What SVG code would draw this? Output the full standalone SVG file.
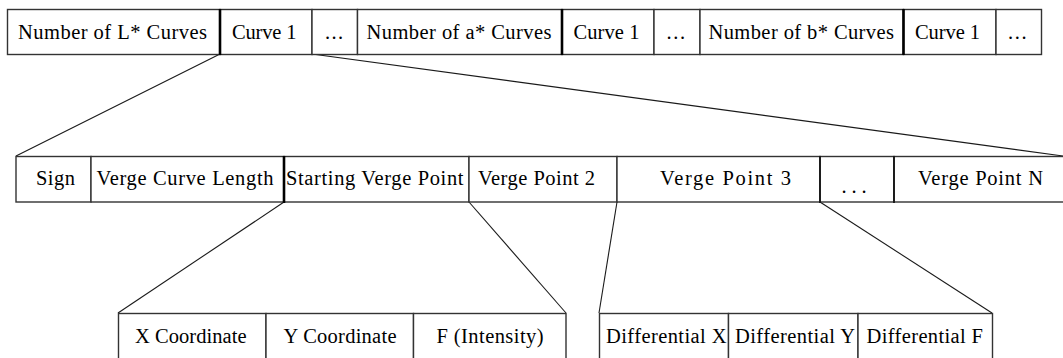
<svg xmlns="http://www.w3.org/2000/svg" width="1063" height="358" viewBox="0 0 1063 358">
<style>
.cell{fill:#ffffff;stroke:#333333;stroke-width:1.4}
.thick{stroke:#000000;stroke-width:2.6}
.med{stroke:#1a1a1a;stroke-width:1.9}
.lbl{font-family:"Liberation Serif","Times New Roman",serif;font-size:20.5px;fill:#000000}
.conn{stroke:#1a1a1a;stroke-width:1.1;fill:none}
</style>
<rect width="1063" height="358" fill="#ffffff"/>
<g id="connectors">
<line class="conn" x1="220" y1="54" x2="16" y2="156"/>
<line class="conn" x1="312" y1="54" x2="1063" y2="156"/>
<line class="conn" x1="284" y1="202" x2="118" y2="313"/>
<line class="conn" x1="469" y1="202" x2="566" y2="313"/>
<line class="conn" x1="617" y1="202" x2="599" y2="313"/>
<line class="conn" x1="820" y1="202" x2="992" y2="313"/>
</g>
<g id="top-num-L"><rect class="cell" x="7.5" y="9.5" width="212.5" height="45"/><text class="lbl" x="18" y="39" textLength="189" lengthAdjust="spacing">Number of L* Curves</text></g>
<g id="top-curve1-L"><rect class="cell" x="220" y="9.5" width="92" height="45"/><text class="lbl" x="232" y="39" textLength="64.5" lengthAdjust="spacing">Curve 1</text></g>
<g id="top-dots-L"><rect class="cell" x="312" y="9.5" width="45.5" height="45"/><text class="lbl" x="325" y="39" textLength="18" lengthAdjust="spacing">...</text></g>
<g id="top-num-a"><rect class="cell" x="357.5" y="9.5" width="204.5" height="45"/><text class="lbl" x="366.5" y="39" textLength="185" lengthAdjust="spacing">Number of a* Curves</text></g>
<g id="top-curve1-a"><rect class="cell" x="562" y="9.5" width="92" height="45"/><text class="lbl" x="573.5" y="39" textLength="66" lengthAdjust="spacing">Curve 1</text></g>
<g id="top-dots-a"><rect class="cell" x="654" y="9.5" width="46" height="45"/><text class="lbl" x="666.5" y="39" textLength="18.5" lengthAdjust="spacing">...</text></g>
<g id="top-num-b"><rect class="cell" x="700" y="9.5" width="203.5" height="45"/><text class="lbl" x="708.5" y="39" textLength="185.5" lengthAdjust="spacing">Number of b* Curves</text></g>
<g id="top-curve1-b"><rect class="cell" x="903.5" y="9.5" width="92.5" height="45"/><text class="lbl" x="915" y="39" textLength="65" lengthAdjust="spacing">Curve 1</text></g>
<g id="top-dots-b"><rect class="cell" x="996" y="9.5" width="45.5" height="45"/><text class="lbl" x="1008" y="39" textLength="18.5" lengthAdjust="spacing">...</text></g>
<g id="top-dividers">
<line class="thick" x1="220" y1="9" x2="220" y2="55"/>
<line class="thick" x1="562" y1="9" x2="562" y2="55"/>
<line class="thick" x1="903.5" y1="9" x2="903.5" y2="55"/>
</g>
<g id="mid-sign"><rect class="cell" x="16" y="156.5" width="75" height="45.5"/><text class="lbl" x="36" y="185" textLength="39" lengthAdjust="spacing">Sign</text></g>
<g id="mid-length"><rect class="cell" x="91" y="156.5" width="193" height="45.5"/><text class="lbl" x="96.5" y="185" textLength="177" lengthAdjust="spacing">Verge Curve Length</text></g>
<g id="mid-start"><rect class="cell" x="284" y="156.5" width="185" height="45.5"/><text class="lbl" x="286" y="185" textLength="177.5" lengthAdjust="spacing">Starting Verge Point</text></g>
<g id="mid-vp2"><rect class="cell" x="469" y="156.5" width="148" height="45.5"/><text class="lbl" x="478" y="185" textLength="117" lengthAdjust="spacing">Verge Point 2</text></g>
<g id="mid-vp3"><rect class="cell" x="617" y="156.5" width="203" height="45.5"/><text class="lbl" x="660" y="185" textLength="131" lengthAdjust="spacing">Verge Point 3</text></g>
<g id="mid-dots"><rect class="cell" x="820" y="156.5" width="74" height="45.5"/><text class="lbl" x="841.5" y="193" textLength="25" lengthAdjust="spacing">...</text></g>
<g id="mid-vpn"><rect class="cell" x="894" y="156.5" width="180" height="45.5"/><text class="lbl" x="918" y="185" textLength="125" lengthAdjust="spacing">Verge Point N</text></g>
<g id="mid-dividers">
<line class="thick" x1="284" y1="156" x2="284" y2="203"/>
<line class="med" x1="820" y1="156" x2="820" y2="203"/>
<line class="med" x1="894" y1="156" x2="894" y2="203"/>
</g>
<g id="bot-x"><rect class="cell" x="118.5" y="313.5" width="147.5" height="60"/><text class="lbl" x="135" y="343" textLength="111.5" lengthAdjust="spacing">X Coordinate</text></g>
<g id="bot-y"><rect class="cell" x="266" y="313.5" width="147.5" height="60"/><text class="lbl" x="283.5" y="343" textLength="113" lengthAdjust="spacing">Y Coordinate</text></g>
<g id="bot-f"><rect class="cell" x="413.5" y="313.5" width="152.5" height="60"/><text class="lbl" x="436.5" y="343" textLength="107" lengthAdjust="spacing">F (Intensity)</text></g>
<g id="bot-dx"><rect class="cell" x="599.5" y="313.5" width="129" height="60"/><text class="lbl" x="606" y="343" textLength="120.5" lengthAdjust="spacing">Differential X</text></g>
<g id="bot-dy"><rect class="cell" x="728.5" y="313.5" width="129.5" height="60"/><text class="lbl" x="735" y="343" textLength="120" lengthAdjust="spacing">Differential Y</text></g>
<g id="bot-df"><rect class="cell" x="858" y="313.5" width="134.5" height="60"/><text class="lbl" x="866.5" y="343" textLength="116.5" lengthAdjust="spacing">Differential F</text></g>
</svg>
